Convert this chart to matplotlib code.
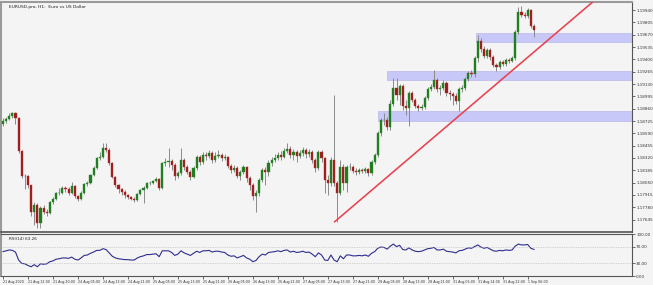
import numpy as np
import matplotlib
matplotlib.use("Agg")
import matplotlib.pyplot as plt
from matplotlib.patches import Rectangle

# EURUSD H1 candles (open of each bar = previous close)
first_open = 1.18692
closes = [
    1.18725, 1.18747, 1.18780, 1.18813, 1.18758, 1.18397, 1.18123, 1.18123, 1.18024, 1.17729,
    1.17805, 1.17608, 1.17772, 1.17729, 1.17718, 1.17838, 1.17871, 1.17937, 1.17937, 1.17991,
    1.17980, 1.17937, 1.18013, 1.17904, 1.17871, 1.17937, 1.18035, 1.18046, 1.18134, 1.18210,
    1.18320, 1.18331, 1.18429, 1.18408, 1.18265, 1.18112, 1.18024, 1.17980, 1.17948, 1.17915,
    1.17893, 1.17871, 1.17860, 1.17926, 1.17970, 1.17991, 1.18046, 1.18046, 1.18068, 1.18090,
    1.17991, 1.18265, 1.18276, 1.18287, 1.18243, 1.18123, 1.18156, 1.18298, 1.18221, 1.18167,
    1.18112, 1.18210, 1.18331, 1.18276, 1.18353, 1.18342, 1.18375, 1.18298, 1.18342, 1.18353,
    1.18320, 1.18331, 1.18232, 1.18189, 1.18210, 1.18123, 1.18167, 1.18221, 1.18101, 1.18024,
    1.17904, 1.17937, 1.18079, 1.18189, 1.18167, 1.18265, 1.18298, 1.18320, 1.18353, 1.18331,
    1.18397, 1.18418, 1.18353, 1.18386, 1.18342, 1.18375, 1.18408, 1.18364, 1.18386, 1.18298,
    1.18210, 1.18386, 1.18320, 1.18079, 1.18046, 1.18298, 1.18046, 1.17937, 1.18221, 1.18046,
    1.18221, 1.18221, 1.18178, 1.18167, 1.18189, 1.18178, 1.18199, 1.18156, 1.18276, 1.18353,
    1.18594, 1.18736, 1.18736, 1.18659, 1.18911, 1.19086, 1.19010, 1.19108, 1.18889, 1.18867,
    1.19032, 1.18955, 1.18889, 1.18867, 1.18878, 1.18977, 1.19075, 1.19097, 1.19174, 1.19075,
    1.19086, 1.19141, 1.19032, 1.19021, 1.18999, 1.18944, 1.19075, 1.19086, 1.19185, 1.19251,
    1.19240, 1.19415, 1.19601, 1.19514, 1.19437, 1.19503, 1.19426, 1.19338, 1.19316, 1.19371,
    1.19349, 1.19393, 1.19382, 1.19415, 1.19700, 1.19919, 1.19886, 1.19875, 1.19941, 1.19765,
    1.19722,
]
highs = [
    1.18758, 1.18769, 1.18813, 1.18824, 1.18824, 1.18769, 1.18408, 1.18145, 1.18134, 1.18024,
    1.17838, 1.17827, 1.17794, 1.17805, 1.17761, 1.17849, 1.17893, 1.17948, 1.17991, 1.18013,
    1.18013, 1.18002, 1.18057, 1.18024, 1.17915, 1.17959, 1.18046, 1.18068, 1.18145, 1.18232,
    1.18331, 1.18386, 1.18484, 1.18484, 1.18429, 1.18276, 1.18123, 1.18035, 1.17991, 1.17970,
    1.17926, 1.17904, 1.17893, 1.17937, 1.17980, 1.18013, 1.18057, 1.18068, 1.18079, 1.18112,
    1.18101, 1.18276, 1.18320, 1.18429, 1.18309, 1.18265, 1.18178, 1.18429, 1.18320, 1.18243,
    1.18189, 1.18232, 1.18353, 1.18353, 1.18386, 1.18386, 1.18408, 1.18397, 1.18386, 1.18408,
    1.18375, 1.18364, 1.18342, 1.18254, 1.18243, 1.18232, 1.18189, 1.18243, 1.18232, 1.18123,
    1.18046, 1.17970, 1.18101, 1.18210, 1.18221, 1.18298, 1.18331, 1.18364, 1.18386, 1.18397,
    1.18429, 1.18484, 1.18451, 1.18418, 1.18408, 1.18408, 1.18440, 1.18429, 1.18418, 1.18408,
    1.18320, 1.18408, 1.18408, 1.18331, 1.18134, 1.18331, 1.19010, 1.18068, 1.18298, 1.18254,
    1.18243, 1.18265, 1.18243, 1.18210, 1.18210, 1.18210, 1.18221, 1.18210, 1.18298, 1.18375,
    1.18616, 1.18758, 1.18813, 1.18769, 1.18955, 1.19196, 1.19196, 1.19130, 1.19130, 1.18955,
    1.19054, 1.19054, 1.18977, 1.18911, 1.18911, 1.18999, 1.19097, 1.19130, 1.19284, 1.19196,
    1.19119, 1.19174, 1.19163, 1.19065, 1.19043, 1.19032, 1.19097, 1.19119, 1.19207, 1.19273,
    1.19284, 1.19437, 1.19667, 1.19634, 1.19547, 1.19525, 1.19525, 1.19448, 1.19360, 1.19393,
    1.19393, 1.19415, 1.19415, 1.19437, 1.19722, 1.19973, 1.19984, 1.19919, 1.19963, 1.19952,
    1.19787,
]
lows = [
    1.18670, 1.18703, 1.18736, 1.18758, 1.18692, 1.18375, 1.18101, 1.17980, 1.17991, 1.17685,
    1.17586, 1.17553, 1.17553, 1.17707, 1.17685, 1.17707, 1.17816, 1.17860, 1.17915, 1.17926,
    1.17948, 1.17915, 1.17926, 1.17882, 1.17849, 1.17860, 1.17926, 1.18013, 1.18035, 1.18123,
    1.18199, 1.18298, 1.18320, 1.18386, 1.18243, 1.18101, 1.18002, 1.17937, 1.17915, 1.17882,
    1.17871, 1.17860, 1.17838, 1.17849, 1.17915, 1.17827, 1.17980, 1.18024, 1.18035, 1.18057,
    1.17970, 1.17980, 1.18232, 1.18221, 1.18189, 1.18079, 1.18101, 1.18134, 1.18189, 1.18145,
    1.18079, 1.18101, 1.18189, 1.18243, 1.18254, 1.18298, 1.18320, 1.18265, 1.18276, 1.18320,
    1.18287, 1.18298, 1.18210, 1.18156, 1.18167, 1.18101, 1.18079, 1.18145, 1.18057, 1.17970,
    1.17860, 1.17729, 1.17904, 1.18057, 1.18024, 1.18123, 1.18232, 1.18276, 1.18298, 1.18298,
    1.18320, 1.18375, 1.18320, 1.18298, 1.18276, 1.18320, 1.18342, 1.18320, 1.18331, 1.18265,
    1.18167, 1.18189, 1.18276, 1.17937, 1.17915, 1.18013, 1.18013, 1.17619, 1.17915, 1.17970,
    1.17948, 1.18189, 1.18156, 1.18134, 1.18145, 1.18156, 1.18156, 1.18123, 1.18134, 1.18254,
    1.18331, 1.18561, 1.18681, 1.18627, 1.18627, 1.18889, 1.18955, 1.18900, 1.18846, 1.18791,
    1.18670, 1.18933, 1.18867, 1.18835, 1.18846, 1.18857, 1.18955, 1.19054, 1.19075, 1.19043,
    1.19010, 1.19065, 1.18999, 1.18955, 1.18900, 1.18911, 1.18835, 1.19043, 1.19065, 1.19163,
    1.19207, 1.19207, 1.19371, 1.19481, 1.19415, 1.19415, 1.19393, 1.19316, 1.19273, 1.19294,
    1.19327, 1.19327, 1.19360, 1.19371, 1.19393, 1.19678, 1.19864, 1.19853, 1.19853, 1.19744,
    1.19645,
]

# RSI(14) values per bar
rsi = [
    58, 60, 62, 61, 57, 38, 30, 29, 25, 22,
    27, 22, 29, 28, 29, 34, 36, 40, 41, 43,
    43, 42, 45, 40, 38, 43, 49, 50, 54, 57,
    61, 61, 65, 63, 55, 47, 43, 41, 40, 39,
    39, 38, 38, 43, 46, 48, 51, 51, 52, 53,
    46, 60, 60, 60, 56, 49, 52, 60, 55, 52,
    49, 54, 59, 56, 60, 60, 61, 57, 59, 59,
    57, 56, 50, 47, 48, 43, 46, 49, 43, 40,
    34, 37, 46, 52, 50, 56, 57, 58, 60, 58,
    61, 62, 57, 59, 56, 57, 59, 56, 57, 52,
    46, 55, 50, 38, 37, 50, 38, 34, 48, 41,
    50, 50, 48, 48, 49, 48, 50, 47, 54, 58,
    66, 69, 68, 64, 71, 76, 70, 73, 63, 62,
    67, 62, 59, 58, 59, 62, 65, 66, 68, 62,
    62, 64, 59, 58, 57, 55, 60, 61, 64, 67,
    66, 70, 74, 69, 66, 68, 64, 60, 59, 61,
    60, 62, 61, 62, 71, 76, 74, 74, 75, 66,
    63.26,
]

# support / resistance zones: start bar, upper and lower price
zone_start = [151.5, 123, 120]
zone_hi = [1.19689, 1.19273, 1.18835]
zone_lo = [1.19590, 1.19174, 1.18725]

# trend line anchors (bar index, price)
trend_x = [106.2, 188.8]
trend_y = [1.17622, 1.20028]

price_ticks = [round(1.19940 - 0.00135 * k, 5) for k in range(18)]
time_labels = ['21 Aug 2020', '21 Aug 12:00', '21 Aug 20:00', '24 Aug 05:00', '24 Aug 13:00',
               '24 Aug 21:00', '25 Aug 05:00', '25 Aug 13:00', '25 Aug 21:00', '26 Aug 05:00',
               '26 Aug 13:00', '26 Aug 21:00', '27 Aug 05:00', '27 Aug 13:00', '27 Aug 21:00',
               '28 Aug 05:00', '28 Aug 13:00', '28 Aug 21:00', '31 Aug 06:00', '31 Aug 14:00',
               '31 Aug 22:00', '1 Sep 06:00']
rsi_levels = [100, 70, 30, 0]

bg = '#f4f4f4'
W, H = 653, 285
fig = plt.figure(figsize=(W / 100, H / 100), dpi=100, facecolor=bg)

ax = fig.add_axes([1 / W, 1 - 232 / H, 631 / W, 230 / H], facecolor=bg)
ax2 = fig.add_axes([1 / W, 1 - 276 / H, 631 / W, 42 / H], facecolor=bg)

c = np.array(closes)
o = np.concatenate([[first_open], c[:-1]])
hi = np.maximum(np.array(highs), np.maximum(o, c))
lo = np.minimum(np.array(lows), np.minimum(o, c))
x = np.arange(len(c))
up = c >= o

# zones
xmax = 201.4
for s, zh, zl in zip(zone_start, zone_hi, zone_lo):
    ax.add_patch(Rectangle((s, zl), xmax + 2 - s, zh - zl, facecolor='#c8c8f8',
                           edgecolor='#b8b8ea', lw=0.5, zorder=1, clip_on=True))

# candles
ax.vlines(x, lo, hi, color='#8a8a8a', lw=0.7, zorder=2)
body_h = np.maximum(np.abs(c - o), 0.00004)
body_b = np.minimum(o, c)
ax.bar(x[up], body_h[up], bottom=body_b[up], width=0.68, color='#1f7a1f',
       edgecolor='#2a8f2a', lw=0.3, zorder=3)
ax.bar(x[~up], body_h[~up], bottom=body_b[~up], width=0.68, color='#931c1c',
       edgecolor='#c03030', lw=0.3, zorder=3)

# trend line extended as a ray
slope = (trend_y[1] - trend_y[0]) / (trend_x[1] - trend_x[0])
tx = np.array([trend_x[0], 230])
ax.plot(tx, trend_y[0] + slope * (tx - trend_x[0]), color='#e8424f', lw=1.15, zorder=4)

ax.set_xlim(-0.64, xmax)
ax.set_ylim(1.175096, 1.200281)
ax.yaxis.tick_right()
ax.set_yticks(price_ticks)
ax.set_yticklabels([f'{p:.5f}' for p in price_ticks])
ax.tick_params(axis='y', length=2, width=0.5, pad=1, labelsize=3, colors='#333333')
ax.set_xticks([])
for sp in ['left', 'top']:
    ax.spines[sp].set_color('#9a9a9a')
    ax.spines[sp].set_linewidth(1.5)
ax.spines['right'].set_color('#555555')
ax.spines['right'].set_linewidth(0.8)
ax.spines['bottom'].set_color('#555555')
ax.spines['bottom'].set_linewidth(1.2)
ax.text(2, 1.200281 - 0.00035, 'EURUSD.pro, H1:  Euro vs US Dollar', fontsize=3.2,
        color='#222222', va='top', ha='left')

# RSI pane
ax2.plot(x, rsi, color='#2e2e8e', lw=0.8)
for lv in (70, 30):
    ax2.axhline(lv, color='#b0b0b0', lw=0.5, ls=(0, (1, 1.5)))
ax2.set_xlim(-0.64, xmax)
ax2.set_ylim(0, 100)
ax2.yaxis.tick_right()
ax2.set_yticks(rsi_levels)
ax2.set_yticklabels([f'{v:.2f}' for v in rsi_levels])
ax2.tick_params(axis='y', length=2, width=0.5, pad=1, labelsize=3, colors='#333333')
ax2.set_xticks(np.arange(len(time_labels)) * 8)
ax2.set_xticklabels(time_labels, ha='left')
ax2.tick_params(axis='x', length=2, width=0.5, pad=1, labelsize=2.3, colors='#333333')
ax2.spines['left'].set_color('#9a9a9a')
ax2.spines['left'].set_linewidth(1.5)
for sp in ['right', 'top', 'bottom']:
    ax2.spines[sp].set_color('#555555')
    ax2.spines[sp].set_linewidth(0.8)
ax2.text(2, 94, f'RSI(14) {rsi[-1]:.2f}', fontsize=3, color='#222222', va='top', ha='left')

fig.savefig('out.png', dpi=100, facecolor=bg)
